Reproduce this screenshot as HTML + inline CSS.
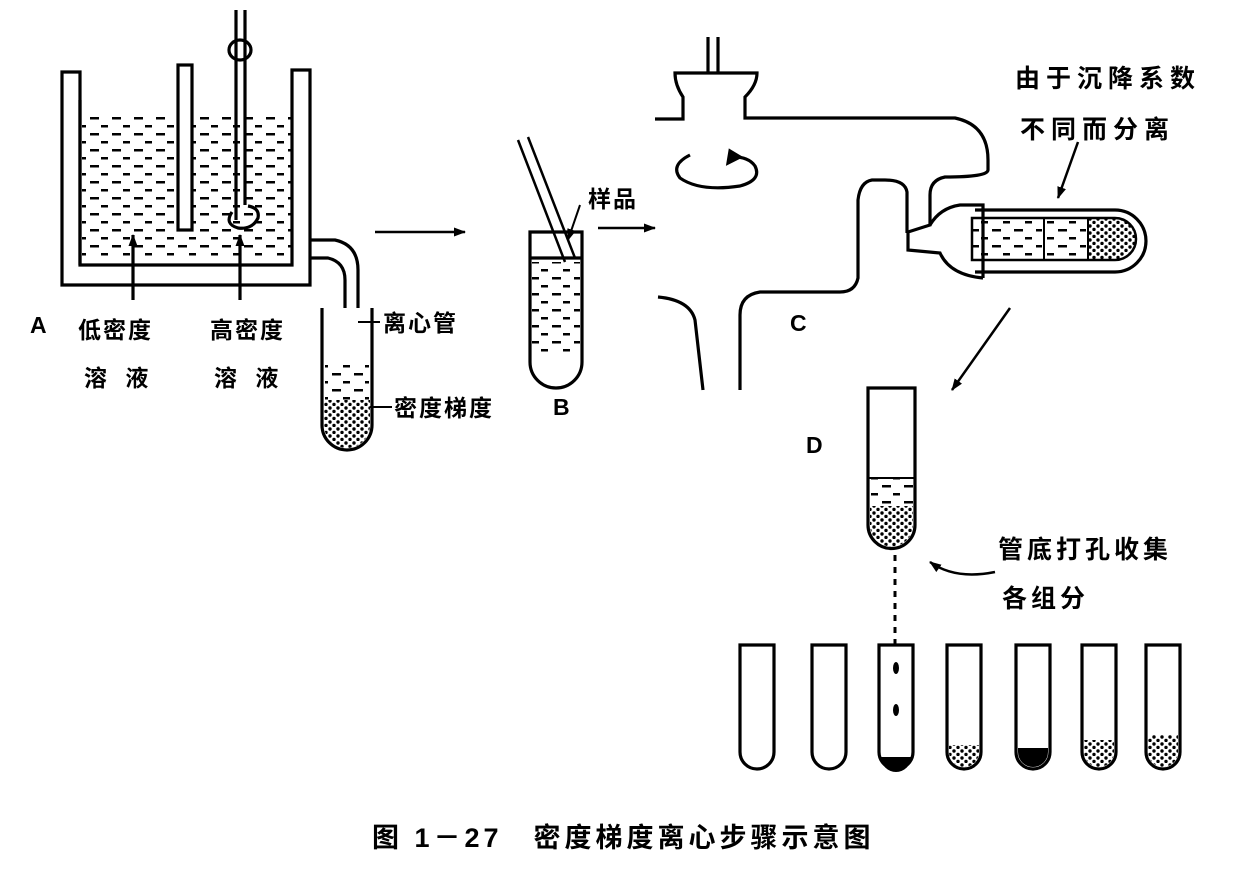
<!DOCTYPE html>
<html><head><meta charset="utf-8"><style>
html,body{margin:0;padding:0;background:#fff}
svg{display:block}
text{font-family:"Liberation Sans","Noto Sans CJK SC",sans-serif;font-weight:bold;fill:#000}
</style></head><body>
<svg width="1235" height="869" viewBox="0 0 1235 869" xmlns="http://www.w3.org/2000/svg">
<defs>
<pattern id="dash" width="22" height="16" patternUnits="userSpaceOnUse">
<rect x="2" y="5" width="9" height="2.5" fill="#000"/><rect x="13" y="13" width="7" height="2.5" fill="#000"/>
</pattern>
<pattern id="dot" width="8" height="7" patternUnits="userSpaceOnUse">
<circle cx="2" cy="2" r="1.7" fill="#000"/><circle cx="6" cy="5.5" r="1.7" fill="#000"/>
</pattern>
<marker id="ah" markerWidth="12" markerHeight="9" refX="11" refY="4.5" orient="auto" markerUnits="userSpaceOnUse"><path d="M0,0 L12,4.5 L0,9 z" fill="#000"/></marker>
</defs>
<g fill="none" stroke="#000" stroke-width="3.2">
<!-- A container -->
<rect x="82" y="112" width="210" height="148" fill="url(#dash)" stroke="none"/>
<path d="M62,72 H80 V265 H292 V70 H310 V285 H62 Z" fill="#fff"/>
<path d="M80,100 V265" />
<rect x="178" y="65" width="14" height="165" fill="#fff"/>
<path d="M236,10 V220 M245,10 V205"/>
<ellipse cx="240" cy="50" rx="11" ry="10"/>
<path d="M232,212 q-8,12 6,16 q14,2 20,-10 q2,-10 -10,-12"/>
<path d="M310,240 H335 Q358,245 358,270 V330 M310,258 H328 Q345,262 345,280 V330"/>
<line x1="133" y1="300" x2="133" y2="235" marker-end="url(#ah)"/>
<line x1="240" y1="300" x2="240" y2="235" marker-end="url(#ah)"/>
<!-- tube A -->
<path d="M322,308 V425 A25,25 0 0 0 372,425 V308" fill="#fff"/>
<rect x="325" y="365" width="44" height="35" fill="url(#dash)" stroke="none"/>
<path d="M324,400 H370 V425 A23,23 0 0 1 324,425Z" fill="url(#dot)" stroke="none"/>
<line x1="358" y1="322" x2="380" y2="322" stroke-width="2"/>
<line x1="370" y1="407" x2="392" y2="407" stroke-width="2"/>
<line x1="375" y1="232" x2="465" y2="232" marker-end="url(#ah)" stroke-width="2.5"/>
<!-- B -->
<rect x="532" y="262" width="48" height="95" fill="url(#dash)" stroke="none"/>
<path d="M530,232 V362 A26,26 0 0 0 582,362 V232 Z"/>
<line x1="530" y1="258" x2="582" y2="258"/>
<path d="M518,140 L565,262 M528,137 L575,258" stroke-width="2.5"/>
<line x1="580" y1="205" x2="568" y2="240" stroke-width="2" marker-end="url(#ah)"/>
<line x1="598" y1="228" x2="655" y2="228" marker-end="url(#ah)" stroke-width="2.5"/>
<!-- C centrifuge -->
<path d="M708,37 V73 M718,37 V73"/>
<path d="M655,119 H683 V97 Q675,85 675,73 H757 Q757,85 745,97 V118 H955 Q988,125 988,160 V170 Q988,177 945,177 Q930,180 930,195 V225 L908,232 V250 L940,253 Q950,275 983,278"/>
<path d="M907,233 V192 Q905,180 885,180 H872 Q860,182 858,200 V278 Q855,292 840,292 H760 Q740,295 740,315 V390"/>
<path d="M658,297 Q690,300 695,320 L703,390"/>
<path d="M690,155 Q670,165 680,178 Q700,192 740,186 Q762,180 755,166 Q748,156 730,157" />
<path d="M730,151 L740,157 L728,163 z" fill="#000"/>
<path d="M930,225 Q940,208 960,205 H983 V278"/>
<path d="M975,210 H1115 A31,31 0 0 1 1115,272 H975" />
<rect x="972" y="218" width="70" height="42" fill="url(#dash)" stroke="none"/>
<rect x="1046" y="218" width="40" height="42" fill="url(#dash)" stroke="none"/>
<path d="M1088,218 H1115 A21,21 0 0 1 1115,260 H1088 Z" fill="url(#dot)" stroke="none"/>
<path d="M972,218 H1115 A21,21 0 0 1 1115,260 H972 Z" stroke-width="2.5"/>
<path d="M1044,218 V260 M1088,218 V260" stroke-width="2"/>
<line x1="1078" y1="142" x2="1058" y2="198" marker-end="url(#ah)" stroke-width="2.5"/>
<line x1="1010" y1="308" x2="952" y2="390" marker-end="url(#ah)" stroke-width="2.5"/>
<!-- D -->
<path d="M868,388 V525 A23.5,23.5 0 0 0 915,525 V388 Z"/>
<rect x="870" y="478" width="43" height="28" fill="url(#dash)" stroke="none"/>
<line x1="868" y1="478" x2="915" y2="478" stroke-width="2"/>
<path d="M870,506 H913 V525 A21.5,21.5 0 0 1 870,525Z" fill="url(#dot)" stroke="none"/>
<path d="M995,572 Q955,580 930,562" marker-end="url(#ah)" stroke-width="2.5"/>
<line x1="895" y1="555" x2="895" y2="645" stroke-dasharray="6,6" stroke-width="3"/>
<!-- bottom tubes -->
<path d="M740,645 V752 A17,17 0 0 0 774,752 V645 Z"/>
<path d="M812,645 V752 A17,17 0 0 0 846,752 V645 Z"/>
<path d="M879,645 V752 A17,17 0 0 0 913,752 V645 Z"/>
<path d="M947,645 V752 A17,17 0 0 0 981,752 V645 Z"/>
<path d="M1016,645 V752 A17,17 0 0 0 1050,752 V645 Z"/>
<path d="M1082,645 V752 A17,17 0 0 0 1116,752 V645 Z"/>
<path d="M1146,645 V752 A17,17 0 0 0 1180,752 V645 Z"/>
<path d="M881,757 H911 A15,15 0 0 1 881,757Z" fill="#000" stroke="none"/>
<ellipse cx="896" cy="668" rx="3" ry="6" fill="#000" stroke="none"/>
<ellipse cx="896" cy="710" rx="3" ry="6" fill="#000" stroke="none"/>
<path d="M949,745 H979 V752 A15,15 0 0 1 949,752Z" fill="url(#dot)" stroke="none"/>
<path d="M1018,748 H1048 V752 A15,15 0 0 1 1018,752Z" fill="#000" stroke="none"/>
<path d="M1084,740 H1114 V752 A15,15 0 0 1 1084,752Z" fill="url(#dot)" stroke="none"/>
<path d="M1148,735 H1178 V752 A15,15 0 0 1 1148,752Z" fill="url(#dot)" stroke="none"/>
</g>
<g font-size="23" letter-spacing="2">
<text x="30" y="333">A</text>
<text x="78" y="338">低密度</text>
<text x="84" y="386" letter-spacing="6">溶 液</text>
<text x="210" y="338">高密度</text>
<text x="214" y="386" letter-spacing="6">溶 液</text>
<text x="383" y="331">离心管</text>
<text x="394" y="416">密度梯度</text>
<text x="588" y="207">样品</text>
<text x="553" y="415">B</text>
<text x="790" y="331">C</text>
<text x="1015" y="87" font-size="25" letter-spacing="6">由于沉降系数</text>
<text x="1020" y="138" font-size="25" letter-spacing="6">不同而分离</text>
<text x="806" y="453">D</text>
<text x="998" y="558" font-size="25" letter-spacing="4">管底打孔收集</text>
<text x="1002" y="607" font-size="25" letter-spacing="4">各组分</text>
<text x="372" y="847" font-size="27" letter-spacing="4">图 1－27　密度梯度离心步骤示意图</text>
</g>
</svg>
</body></html>
